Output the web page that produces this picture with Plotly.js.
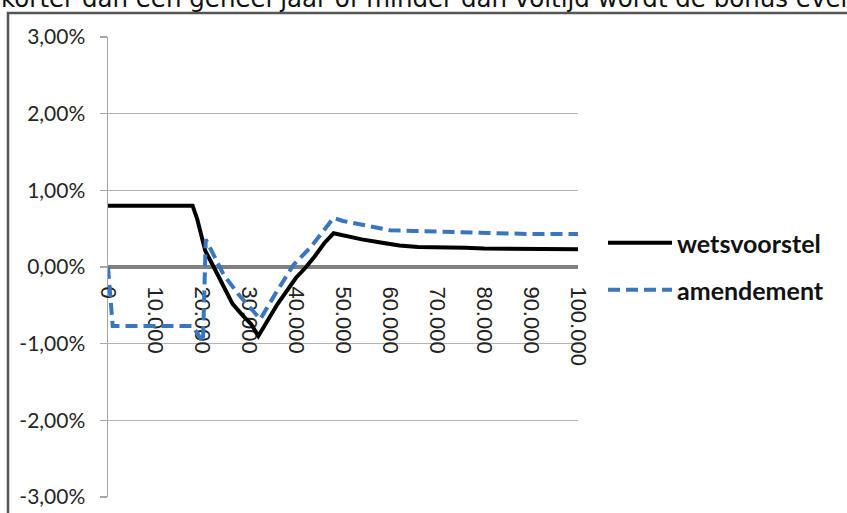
<!DOCTYPE html>
<html>
<head>
<meta charset="utf-8">
<script src="https://cdn.plot.ly/plotly-3.0.1.min.js"></script>
<style>
  html, body { margin: 0; padding: 0; background: #fff; overflow: hidden; }
  #wrap { position: relative; width: 847px; height: 513px; overflow: hidden; }
  #doc { position: absolute; left: 1px; top: -16.5px; white-space: nowrap;
         font-family: "DejaVu Sans", sans-serif; font-size: 24.5px; line-height: 30px; color: #111; }
  #chart { position: absolute; left: 0; top: 0; width: 847px; height: 513px; }
</style>
</head>
<body>
<div id="wrap">
  <div id="chart"></div>
  <div id="doc">korter dan een geheel jaar of minder dan voltijd wordt de bonus even</div>
</div>
<script>
// ---- data ----
const seriesNames = ['wetsvoorstel', 'amendement'];

const wetsX = [0, 18000, 19000, 20700, 22500, 26500, 28500, 30500, 32000, 36000, 40000, 42000, 44000, 46000, 48000, 50000, 54000, 58000, 62000, 66000, 70000, 76000, 80000, 86000, 90000, 100000];
const wetsY = [0.80, 0.80, 0.62, 0.21, 0.00, -0.48, -0.62, -0.75, -0.90, -0.49, -0.14, -0.01, 0.14, 0.31, 0.44, 0.41, 0.36, 0.32, 0.28, 0.26, 0.26, 0.25, 0.24, 0.24, 0.23, 0.23];

const amendX = [0, 1000, 18000, 20200, 20800, 24600, 27800, 31000, 32400, 36000, 39500, 43000, 45200, 48000, 50000, 54000, 56000, 60000, 65000, 70000, 75000, 80000, 86000, 90000, 100000];
const amendY = [0.00, -0.77, -0.77, -0.98, 0.36, -0.10, -0.36, -0.57, -0.68, -0.31, 0.03, 0.25, 0.43, 0.64, 0.60, 0.55, 0.52, 0.48, 0.47, 0.46, 0.45, 0.44, 0.43, 0.43, 0.43];

const xTickVals = [0, 10000, 20000, 30000, 40000, 50000, 60000, 70000, 80000, 90000, 100000];
const xTickText = ['0', '10.000', '20.000', '30.000', '40.000', '50.000', '60.000', '70.000', '80.000', '90.000', '100.000'];
const yTickVals = [-3, -2, -1, 0, 1, 2, 3];
const yTickText = ['-3,00%', '-2,00%', '-1,00%', '0,00%', '1,00%', '2,00%', '3,00%'];

// ---- layout constants ----
const W = 847, H = 513;
const M = { l: 108, r: 269, t: 37, b: 16 };
const plotW = W - M.l - M.r, plotH = H - M.t - M.b;
const px2x = p => (p - M.l) / plotW;
const py2y = p => (H - M.b - p) / plotH;

const traces = [
  { x: wetsX, y: wetsY, name: seriesNames[0], type: 'scatter', mode: 'lines',
    line: { color: '#000000', width: 4 }, legend: 'legend', hoverinfo: 'skip' },
  { x: amendX, y: amendY, name: seriesNames[1], type: 'scatter', mode: 'lines',
    line: { color: '#3a76be', width: 4, dash: '12px,6px' }, legend: 'legend2', hoverinfo: 'skip' }
];

const legendFont = { family: 'Lato, "Open Sans", sans-serif', size: 25, color: '#111', weight: 'bold' };

const layout = {
  width: W, height: H,
  margin: M,
  paper_bgcolor: 'rgba(0,0,0,0)',
  plot_bgcolor: 'rgba(0,0,0,0)',
  showlegend: true,
  xaxis: {
    type: 'linear', range: [0, 100000], domain: [0, 1],
    anchor: 'free', position: 0.5,
    tickmode: 'array', tickvals: xTickVals, ticktext: xTickText,
    tickangle: 90, ticks: '', ticklabelstandoff: 13,
    showgrid: false, zeroline: false,
    showline: true, linecolor: '#808080', linewidth: 4,
    layer: 'below traces',
    tickfont: { family: '"Liberation Sans", Arial, sans-serif', size: 22, color: '#222' },
    fixedrange: true
  },
  yaxis: {
    range: [-3, 3], domain: [0, 1],
    tickmode: 'array', tickvals: yTickVals, ticktext: yTickText,
    ticks: 'outside', ticklen: 7, tickcolor: '#a6a6a6', tickwidth: 1.5,
    ticklabelstandoff: 10,
    showgrid: true, gridcolor: '#b5b5b5', gridwidth: 1.5,
    zeroline: false,
    showline: true, linecolor: '#a6a6a6', linewidth: 1.5,
    layer: 'below traces',
    tickfont: { family: 'Lato, "Open Sans", sans-serif', size: 21, color: '#262626' },
    fixedrange: true
  },
  legend: {
    x: px2x(603), xanchor: 'left', y: py2y(243), yanchor: 'middle',
    font: legendFont, itemwidth: 64, bgcolor: 'rgba(0,0,0,0)', borderwidth: 0
  },
  legend2: {
    x: px2x(603), xanchor: 'left', y: py2y(290), yanchor: 'middle',
    font: legendFont, itemwidth: 64, bgcolor: 'rgba(0,0,0,0)', borderwidth: 0
  },
  shapes: [
    { type: 'rect', xref: 'paper', yref: 'paper',
      x0: px2x(8), x1: px2x(1000), y0: py2y(700), y1: py2y(13),
      line: { color: '#555555', width: 2.5 }, fillcolor: 'rgba(0,0,0,0)', layer: 'below' }
  ]
};

Plotly.newPlot('chart', traces, layout, { staticPlot: true, displayModeBar: false });
</script>
</body>
</html>
